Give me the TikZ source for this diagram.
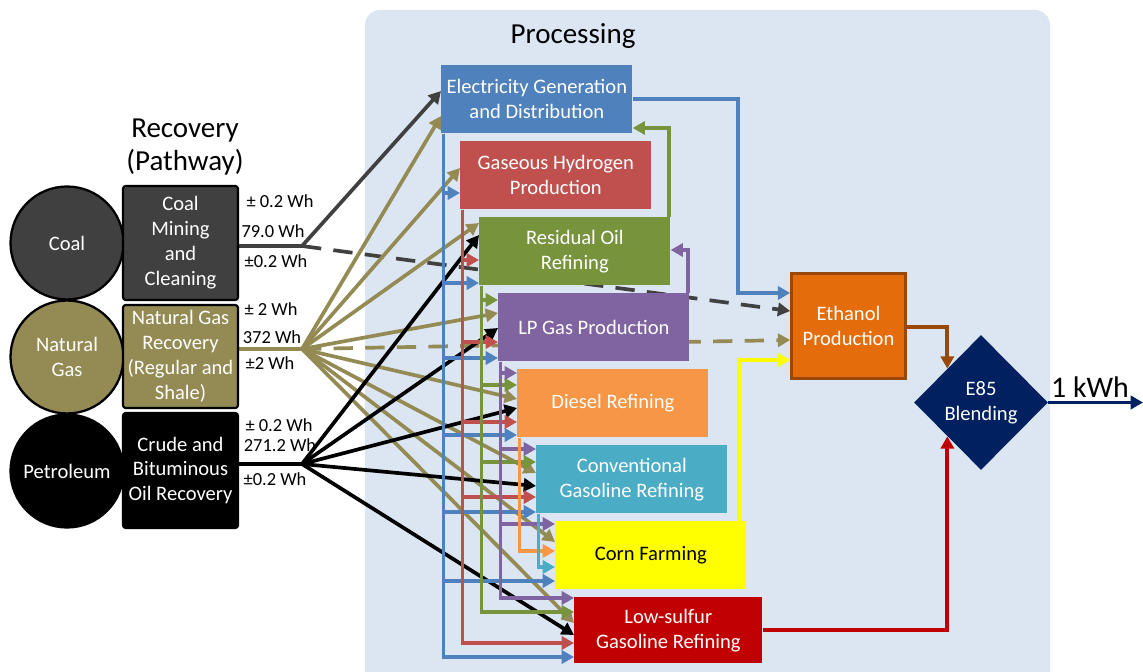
\documentclass[tikz,border=0pt]{standalone}
\usepackage{fontspec}
\setmainfont{Carlito}
\usetikzlibrary{arrows.meta,shapes.geometric,calc}
\definecolor{coalc}{HTML}{404040}
\definecolor{ngc}{HTML}{948A54}
\definecolor{elecc}{HTML}{4F81BD}
\definecolor{hyc}{HTML}{C0504D}
\definecolor{resc}{HTML}{77933C}
\definecolor{lpc}{HTML}{8064A2}
\definecolor{dslc}{HTML}{F79646}
\definecolor{convc}{HTML}{4BACC6}
\definecolor{cornc}{HTML}{FFFF00}
\definecolor{lsc}{HTML}{C00000}
\definecolor{ethc}{HTML}{E46C0A}
\definecolor{ethb}{HTML}{984807}
\definecolor{navyc}{HTML}{002060}
\definecolor{panelc}{HTML}{DCE6F2}
\pgfdeclarelayer{panellayer}
\pgfdeclarelayer{linelayer}
\pgfsetlayers{panellayer,linelayer,main}
\begin{document}
\begin{tikzpicture}[x=0.02cm,y=-0.02cm,
  boxfont/.style={font=\fontsize{11.7}{14.2}\selectfont},
  proc/.style={boxfont,anchor=north west,minimum width=3.82cm,minimum height=1.36cm,inner sep=2pt,text=white,align=center},
  rec/.style={boxfont,draw=black,line width=1.2pt,rounded corners=1.5pt,minimum width=2.3cm,inner sep=1pt,text=white,align=center},
  src/.style={boxfont,circle,draw=black,line width=1.3pt,minimum size=2.26cm,inner sep=0pt,text=white,align=center},
  lbl/.style={font=\fontsize{10.5}{12}\selectfont,text=black,inner sep=0pt},
  conn/.style={line width=2.1pt,-{Triangle[length=7pt,width=7.5pt]}},
  plain/.style={line width=2.1pt},
  dashline/.style={dash pattern=on 11pt off 7pt}]
\useasboundingbox (0,0) rectangle (1143,672);
\begin{pgfonlayer}{panellayer}
\fill[panelc] (365,672) [rounded corners=0.3cm] -- (365,10) -- (1050,10) [sharp corners] -- (1050,672) -- cycle;
\end{pgfonlayer}

% titles
\node[font=\fontsize{16.5}{18.7}\selectfont] (ptitle) at (573,36) {Processing};
\node[font=\fontsize{16.5}{18.7}\selectfont,align=center] (rtitle) at (185,147) {Recovery\\(Pathway)};

% sources
\node[src,fill=coalc] (coal) at (67,243) {Coal};
\node[src,fill=ngc] (ng) at (67,357) {Natural\\Gas};
\node[src,fill=black] (pet) at (67,471) {Petroleum};

% recovery boxes
\node[rec,fill=coalc,minimum height=2.28cm] (mine) at (180.5,243) {Coal\\Mining\\and\\Cleaning};
\node[rec,fill=ngc,minimum height=2.06cm] (ngrec) at (180.5,356.5) {Natural Gas\\Recovery\\(Regular and\\Shale)};
\node[rec,fill=black,minimum height=2.3cm] (crude) at (180.5,470.5) {Crude and\\Bituminous\\Oil Recovery};

% labels
\node[lbl] (l1) at (280,201) {± 0.2 Wh};
\node[lbl] (l2) at (273,231) {79.0 Wh};
\node[lbl] (l3) at (276,261) {±0.2 Wh};
\node[lbl] (l4) at (271,309) {± 2 Wh};
\node[lbl] (l5) at (272,337) {372 Wh};
\node[lbl] (l6) at (270,363) {±2 Wh};
\node[lbl] (l7) at (279,425) {± 0.2 Wh};
\node[lbl] (l8) at (280,445) {271.2 Wh};
\node[lbl] (l9) at (275,479) {±0.2 Wh};

% processing boxes
\node[proc,fill=elecc] (elec) at (441,65) {Electricity Generation\\and Distribution};
\node[proc,fill=hyc] (hy) at (460,141) {Gaseous Hydrogen\\Production};
\node[proc,fill=resc] (res) at (479,217) {Residual Oil\\Refining};
\node[proc,fill=lpc] (lp) at (498,293) {LP Gas Production};
\node[proc,fill=dslc] (dsl) at (517,369) {Diesel Refining};
\node[proc,fill=convc] (conv) at (536,445) {Conventional\\Gasoline Refining};
\node[proc,fill=cornc,text=black] (corn) at (555,521) {Corn Farming};
\node[proc,fill=lsc,minimum width=3.76cm,minimum height=1.32cm] (ls) at (574,597) {Low-sulfur\\Gasoline Refining};

\node[boxfont,fill=ethc,draw=ethb,line width=1.5pt,minimum width=2.28cm,minimum height=2.1cm,text=white,align=center] (eth) at (848.5,326) {Ethanol\\Production};
\node[boxfont,diamond,fill=navyc,minimum width=2.68cm,minimum height=2.7cm,inner sep=0pt,text=white,align=center] (e85) at (981,402.5) {E85\\Blending};
\node[font=\fontsize{17}{19}\selectfont,inner sep=0pt] (kwh) at (1090,387) {1 kWh};
\coordinate (out) at (1143,402.5);

\coordinate (cj) at (302,246);
\coordinate (nj) at (302,349);
\coordinate (pj) at (302,464);

\begin{pgfonlayer}{linelayer}
% coal
\draw[plain,coalc] (mine.east |- cj) -- (cj);
\draw[conn,coalc] (cj) -- (elec.west |- 0,91);
\draw[conn,coalc,dashline] (cj) -- (eth.west |- 0,311);
% natural gas
\draw[plain,ngc] (ngrec.east |- nj) -- (nj);
\draw[conn,ngc] (nj) -- (elec.west |- 0,116);
\draw[conn,ngc] (nj) -- (hy.west |- 0,168);
\draw[conn,ngc] (nj) -- (res.west |- 0,223);
\draw[conn,ngc] (nj) -- (lp.west |- 0,313);
\draw[conn,ngc] (nj) -- (dsl.west |- 0,399);
\draw[conn,ngc] (nj) -- (conv.west |- 0,473);
\draw[conn,ngc] (nj) -- (corn.west |- 0,542);
\draw[conn,ngc] (nj) -- (ls.west |- 0,623);
\draw[conn,ngc,dashline] (nj) -- (eth.west |- 0,340);
% petroleum
\draw[plain,black] (crude.east |- pj) -- (pj);
\draw[conn,black] (pj) -- (res.west |- 0,235);
\draw[conn,black] (pj) -- (lp.west |- 0,328);
\draw[conn,black] (pj) -- (dsl.west |- 0,408);
\draw[conn,black] (pj) -- (conv.west |- 0,486);
\draw[conn,black] (pj) -- (ls.west |- 0,635);
% buses
\foreach \n/\y in {hy/193,res/283,lp/358,dsl/435,conv/512,corn/581,ls/657}
  \draw[conn,elecc] ($(elec.south west)+(2.5,0)$) |- (\n.west |- 0,\y);
\foreach \n/\y in {res/260,lp/342,dsl/422,conv/497,ls/643}
  \draw[conn,hyc] ($(hy.south west)+(2.5,0)$) |- (\n.west |- 0,\y);
\foreach \n/\y in {lp/300,dsl/385,conv/462,ls/612}
  \draw[conn,resc] ($(res.south west)+(2.5,0)$) |- (\n.west |- 0,\y);
\foreach \n/\y in {dsl/373,conv/449,corn/524,ls/598}
  \draw[conn,lpc] ($(lp.south west)+(2.5,0)$) |- (\n.west |- 0,\y);
\draw[conn,dslc] ($(dsl.south west)+(2.5,0)$) |- (corn.west |- 0,551);
\draw[conn,convc] ($(conv.south west)+(2.5,0)$) |- (corn.west |- 0,567);
% feedbacks
\draw[conn,resc] ($(res.north east)+(-2,0)$) |- (elec.east |- 0,128);
\draw[conn,lpc] ($(lp.north east)+(-2,0)$) |- (res.east |- 0,250);
\draw[conn,elecc] (elec.east |- 0,99) -- (738,99) |- (eth.west |- 0,293);
\draw[conn,cornc] ($(corn.north east)+(-8,0)$) |- (eth.west |- 0,360);
\draw[conn,ethb] (eth.east |- 0,327) -| ($(e85.north)!0.5!(e85.west)$);
\draw[conn,lsc] (ls.east |- 0,630) -| ($(e85.south)!0.5!(e85.west)$);
\draw[conn,navyc] (e85.east) -- (out);
\end{pgfonlayer}
\end{tikzpicture}
\end{document}
